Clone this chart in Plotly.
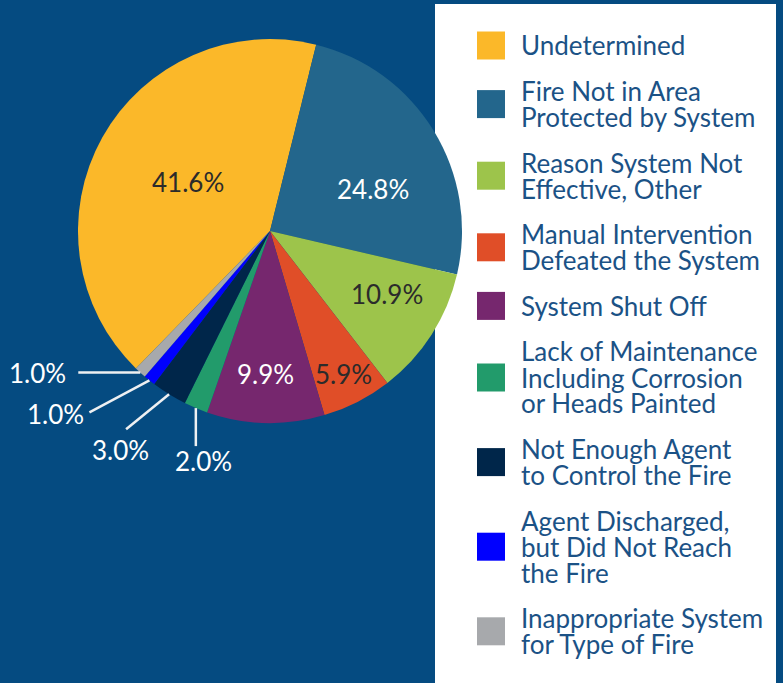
import math
import plotly.graph_objects as go

# ---- data -------------------------------------------------------------
categories = [
    "Undetermined",
    "Fire Not in Area Protected by System",
    "Reason System Not Effective, Other",
    "Manual Intervention Defeated the System",
    "System Shut Off",
    "Lack of Maintenance Including Corrosion or Heads Painted",
    "Not Enough Agent to Control the Fire",
    "Agent Discharged, but Did Not Reach the Fire",
    "Inappropriate System for Type of Fire",
]
legend_text = [
    ["Undetermined"],
    ["Fire Not in Area", "Protected by System"],
    ["Reason System Not", "Effective, Other"],
    ["Manual Intervention", "Defeated the System"],
    ["System Shut Off"],
    ["Lack of Maintenance", "Including Corrosion", "or Heads Painted"],
    ["Not Enough Agent", "to Control the Fire"],
    ["Agent Discharged,", "but Did Not Reach", "the Fire"],
    ["Inappropriate System", "for Type of Fire"],
]
shares = [41.6, 24.8, 10.9, 5.9, 9.9, 2.0, 3.0, 1.0, 1.0]
colors = ["#fbb829", "#23668c", "#9dc44b", "#e04e28", "#76276e",
          "#229b6b", "#00264a", "#0000ff", "#a7a9ac"]

# ---- layout constants (pixels) ----------------------------------------
W, H = 783, 683
CX, CY, R = 270, 231, 192
ROT = -135.7
BG = "#054b81"
TEXT_BLUE = "#1b5286"
FONT = "Lato"
FS_PCT = 26
FS_LEG = 26


def px(x):
    return x / W


def py(y):
    return 1 - y / H


def polar(angle_deg, r):
    a = math.radians(angle_deg)
    return CX + r * math.sin(a), CY - r * math.cos(a)


# slice angles, clockwise from 12 o'clock
total = sum(shares)
mids = []
acc = 0.0
for v in shares:
    a0 = ROT + acc / total * 360
    acc += v
    a1 = ROT + acc / total * 360
    mids.append((a0 + a1) / 2)

fig = go.Figure(go.Pie(
    labels=categories,
    values=shares,
    marker=dict(colors=colors, line=dict(width=0)),
    sort=False,
    direction="clockwise",
    rotation=ROT,
    textinfo="none",
    hoverinfo="label+percent",
    showlegend=False,
    domain=dict(x=[px(CX - R), px(CX + R)], y=[py(CY + R), py(CY - R)]),
))

shapes = []
annotations = []

# legend panel
shapes.append(dict(type="rect", xref="paper", yref="paper", layer="below",
                   x0=px(435), x1=px(776), y0=py(H + 5), y1=py(4),
                   fillcolor="white", line=dict(width=0)))

# labels inside the larger slices: (radius fraction, angular nudge, colour)
inside = {
    0: (0.50, 1.9, "#2b2b2b"),
    1: (0.58, 9.1, "white"),
    2: (0.693, -4.2, "#2b2b2b"),
    3: (0.836, 0.0, "#2b2b2b"),
    4: (0.745, 0.5, "white"),
}
for i, (frac, nudge, col) in inside.items():
    x, y = polar(mids[i] + nudge, frac * R)
    annotations.append(dict(x=px(x), y=py(y), xref="paper", yref="paper",
                            text=f"{shares[i]:.1f}%", showarrow=False,
                            xanchor="center", yanchor="middle",
                            font=dict(family=FONT, size=FS_PCT, color=col)))

# leader lines for the small slices: (line vector, text offset from line end)
outside = {
    5: ((0, 38), (8, 15)),
    6: ((-43, 35), (-6, 21)),
    7: ((-60, 32), (-34, 2)),
    8: ((-62, 0), (-41, 0)),
}
for i, ((lx, ly), (tx, ty)) in outside.items():
    x0, y0 = polar(mids[i], R)
    x1, y1 = x0 + lx, y0 + ly
    shapes.append(dict(type="line", xref="paper", yref="paper",
                       x0=px(x0), y0=py(y0), x1=px(x1), y1=py(y1),
                       line=dict(color="#eef0f2", width=2.5)))
    annotations.append(dict(x=px(x1 + tx), y=py(y1 + ty), xref="paper", yref="paper",
                            text=f"{shares[i]:.1f}%", showarrow=False,
                            xanchor="center", yanchor="middle",
                            font=dict(family=FONT, size=FS_PCT, color="white")))

# legend entries: one annotation per text line (tight leading)
LINE_H = 26
GAP = 19.6
SW = 28
yc = 45.5
prev_n = None
for i, lines in enumerate(legend_text):
    n = len(lines)
    if prev_n is not None:
        yc += (prev_n + n) / 2 * LINE_H + GAP
    prev_n = n
    shapes.append(dict(type="rect", xref="paper", yref="paper",
                       x0=px(477), x1=px(477 + SW),
                       y0=py(yc + SW / 2), y1=py(yc - SW / 2),
                       fillcolor=colors[i], line=dict(width=0)))
    for k, line in enumerate(lines):
        ly = yc + (k - (n - 1) / 2) * LINE_H
        annotations.append(dict(x=px(519.5), y=py(ly), xref="paper", yref="paper",
                                text=line, showarrow=False,
                                xanchor="left", yanchor="middle", borderpad=0,
                                font=dict(family=FONT, size=FS_LEG, color=TEXT_BLUE)))

fig.update_layout(
    width=W, height=H,
    margin=dict(l=0, r=0, t=0, b=0),
    paper_bgcolor=BG, plot_bgcolor=BG,
    shapes=shapes,
    annotations=annotations,
)

fig.write_html("out.html")
